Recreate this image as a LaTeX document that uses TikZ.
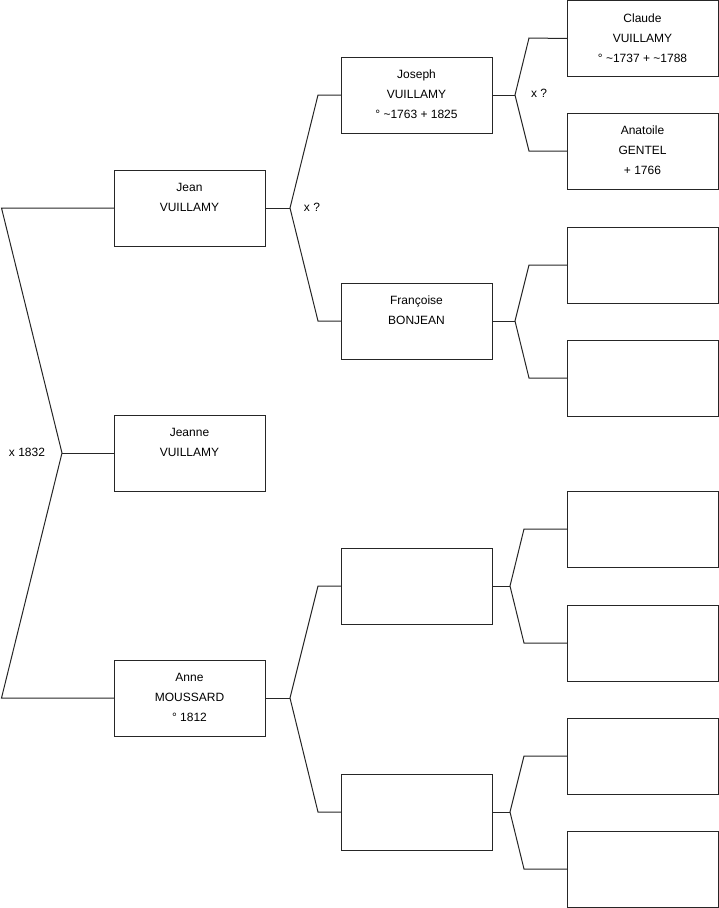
\documentclass[tikz,border=0pt]{standalone}
\usepackage{fontspec}
\setmainfont{Liberation Sans}
\begin{document}
\begin{tikzpicture}[x=1pt,y=-1pt,
  person/.style={draw=black!85, line width=1pt, minimum width=151pt, minimum height=76pt,
    anchor=north west, inner sep=0pt, outer sep=0pt,
    label={[anchor=north, align=center, font=\fontsize{12}{20}\selectfont, inner sep=0pt, yshift=-12.8pt]north:#1}},
  person/.default={},
  conn/.style={draw=black!85, line width=1pt},
  lbl/.style={font=\fontsize{12}{14}\selectfont, inner sep=0pt}
]
\useasboundingbox (0,0) rectangle (719,908);

% generation 1
\node[person={Jean\\VUILLAMY}] (jean) at (114,170) {};
\node[person={Jeanne\\VUILLAMY}] (jeanne) at (114,415) {};
\node[person={Anne\\MOUSSARD\\° 1812}] (anne) at (114,660) {};

% generation 2
\node[person={Joseph\\VUILLAMY\\° \textasciitilde1763 + 1825}] (joseph) at (341,57) {};
\node[person={Françoise\\BONJEAN}] (francoise) at (341,283) {};
\node[person] (u1) at (341,548) {};
\node[person] (u2) at (341,774) {};

% generation 3
\node[person={Claude\\VUILLAMY\\° \textasciitilde1737 + \textasciitilde1788}] (claude) at (567,0.5) {};
\node[person={Anatoile\\GENTEL\\ + 1766}] (anatoile) at (567,113) {};
\node[person] (g3) at (567,227) {};
\node[person] (g4) at (567,340) {};
\node[person] (g5) at (567,491) {};
\node[person] (g6) at (567,605) {};
\node[person] (g7) at (567,718) {};
\node[person] (g8) at (567,831) {};

% labels
\node[lbl] (m0) at (27,452) {x 1832};
\node[lbl] (m1) at (312,207) {x ?};
\node[lbl] (m2) at (539,93) {x ?};

% root connectors
\coordinate (c0) at (1.5,208);
\coordinate (c1) at (62,453);
\coordinate (c2) at (1.5,698);
\draw[conn] (jean.west) -- (c0) -- (c1) -- (c2) -- (anne.west);
\draw[conn] (jeanne.west) -- (c1);

% Jean's parents
\coordinate (j1) at (290,208);
\coordinate (jt) at (318,95);
\coordinate (jb) at (318,321);
\draw[conn] (jean.east) -- (j1);
\draw[conn] (joseph.west) -- (jt) -- (j1) -- (jb) -- (francoise.west);

% Anne's parents
\coordinate (a1) at (290,698);
\coordinate (at) at (318,586);
\coordinate (ab) at (318,812);
\draw[conn] (anne.east) -- (a1);
\draw[conn] (u1.west) -- (at) -- (a1) -- (ab) -- (u2.west);

% Joseph's parents
\coordinate (k1) at (515,95);
\coordinate (kt) at (529,38);
\coordinate (kb) at (529,151);
\draw[conn] (joseph.east) -- (k1);
\draw[conn] (claude.west) -- (kt) -- (k1) -- (kb) -- (anatoile.west);

% Francoise's parents
\coordinate (f1) at (515,321);
\coordinate (ft) at (529,265);
\coordinate (fb) at (529,378);
\draw[conn] (francoise.east) -- (f1);
\draw[conn] (g3.west) -- (ft) -- (f1) -- (fb) -- (g4.west);

% u1's parents
\coordinate (p1) at (510,586);
\coordinate (pt) at (524,529);
\coordinate (pb) at (524,643);
\draw[conn] (u1.east) -- (p1);
\draw[conn] (g5.west) -- (pt) -- (p1) -- (pb) -- (g6.west);

% u2's parents
\coordinate (q1) at (510,812);
\coordinate (qt) at (524,756);
\coordinate (qb) at (524,869);
\draw[conn] (u2.east) -- (q1);
\draw[conn] (g7.west) -- (qt) -- (q1) -- (qb) -- (g8.west);
\end{tikzpicture}
\end{document}
